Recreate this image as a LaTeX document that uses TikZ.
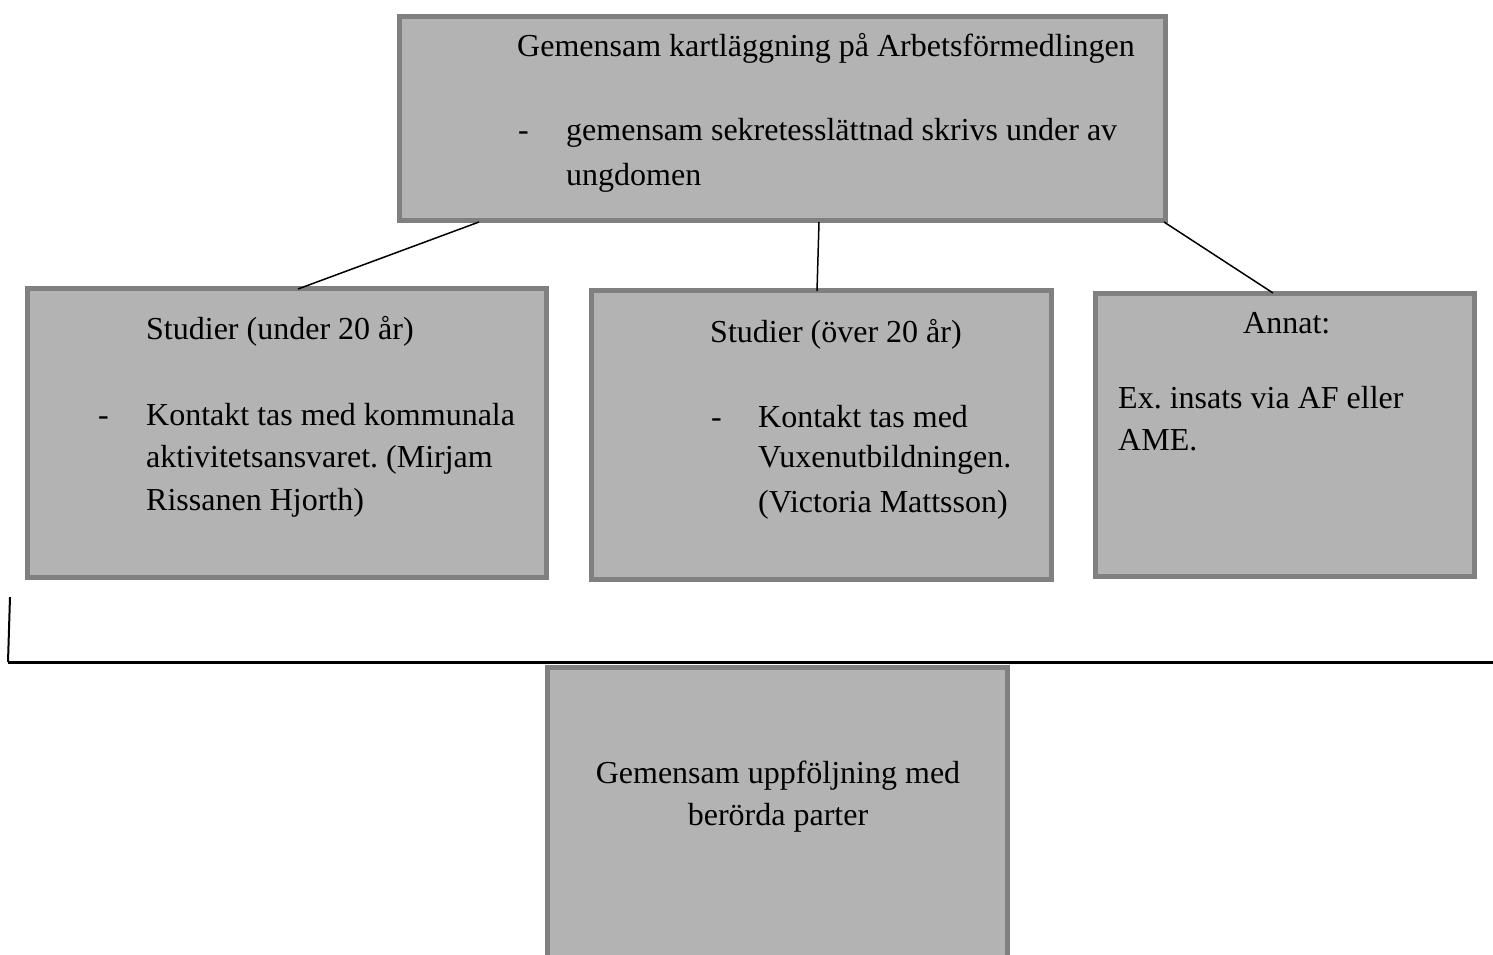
\documentclass[tikz,border=0pt]{standalone}
\usepackage{fontspec}
\setmainfont{Liberation Serif}
\frenchspacing
\definecolor{boxfill}{HTML}{B3B3B3}
\definecolor{boxline}{HTML}{808080}
\begin{document}
\begin{tikzpicture}[x=1pt,y=-1pt,
  gbox/.style={draw=boxline,fill=boxfill,line width=5pt,inner sep=0pt,outer sep=0pt},
  txt/.style={anchor=base west,inner sep=0pt,font=\fontsize{32}{43}\selectfont},
  ctxt/.style={anchor=base,inner sep=0pt,font=\fontsize{32}{43}\selectfont},
  conn/.style={draw=black,line width=1.5pt}]
\useasboundingbox (0,0) rectangle (1493,954);
\clip (0,0) rectangle (1493,954);
% boxes
\node[gbox,minimum width=766pt,minimum height=204pt] (top) at (782.5,118.5) {};
\node[gbox,minimum width=519pt,minimum height=289pt] (b1) at (287,433) {};
\node[gbox,minimum width=460pt,minimum height=289pt] (b2) at (821.5,435) {};
\node[gbox,minimum width=379pt,minimum height=283pt] (b3) at (1285,435) {};
\node[gbox,minimum width=460pt,minimum height=330pt] (b4) at (777.5,832.5) {};
% connectors
\coordinate (t1) at (479,222);
\coordinate (t2) at (819,222);
\coordinate (t3) at (1164,222);
\coordinate (e1) at (298,289);
\coordinate (e2) at (817,291);
\coordinate (e3) at (1273,293);
\draw[conn] (t1) -- (e1);
\draw[conn] (t2) -- (e2);
\draw[conn] (t3) -- (e3);
% separator line
\coordinate (s0) at (10,597);
\coordinate (s1) at (8,662);
\coordinate (s2) at (1493,662);
\draw[line width=2pt] (s0) -- (s1);
\draw[line width=3pt] (s1) -- (s2);
% texts top
\node[txt] (tt1) at (517,56) {Gemensam kartläggning på Arbetsförmedlingen};
\node[txt] (td1) at (518,140) {-};
\node[txt] (tt2) at (566,140) {gemensam sekretesslättnad skrivs under av};
\node[txt] (tt3) at (566,185) {ungdomen};
% box1
\node[txt] (a1) at (146,339) {Studier (under 20 år)};
\node[txt] (ad) at (98,425) {-};
\node[txt] (a2) at (146,425) {Kontakt tas med kommunala};
\node[txt] (a3) at (146,467) {aktivitetsansvaret. (Mirjam};
\node[txt] (a4) at (146,510) {Rissanen Hjorth)};
% box2
\node[txt] (c1) at (710,342) {Studier (över 20 år)};
\node[txt] (cd) at (711,427) {-};
\node[txt] (c2) at (758,427) {Kontakt tas med};
\node[txt] (c3) at (758,467) {Vuxenutbildningen.};
\node[txt] (c4) at (758,512) {(Victoria Mattsson)};
% box3
\node[txt] (d1) at (1243,333) {Annat:};
\node[txt] (d2) at (1118,408) {Ex. insats via AF eller};
\node[txt] (d3) at (1118,450) {AME.};
% bottom
\node[ctxt] (f1) at (778,783) {Gemensam uppföljning med};
\node[ctxt] (f2) at (778,825) {berörda parter};
\end{tikzpicture}
\end{document}
